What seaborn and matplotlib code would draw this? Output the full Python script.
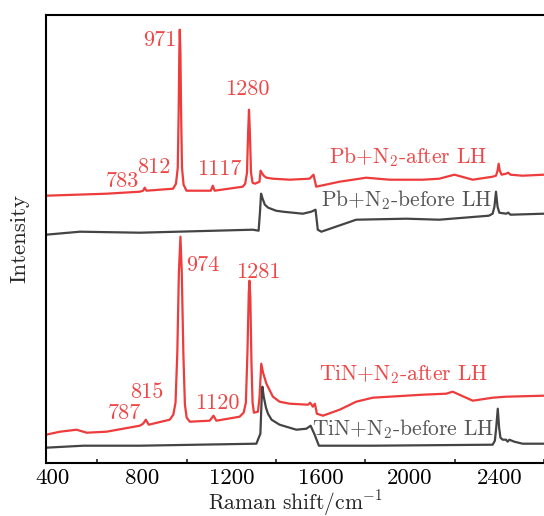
import matplotlib
matplotlib.use("Agg")
import matplotlib.pyplot as plt
from matplotlib.ticker import MultipleLocator
import seaborn as sns
import pandas as pd

# ---- data (Raman shift in cm^-1, intensity in arbitrary units) ----
pb_after_x = [370, 641, 790, 805, 812, 820, 939, 952, 960, 964, 967, 969, 972, 975,
              979, 986, 999, 1108, 1117, 1125, 1251, 1262, 1270, 1275, 1279, 1283,
              1288, 1295, 1306, 1326, 1331, 1336, 1345, 1357, 1386, 1461, 1550, 1568,
              1580, 1685, 1804, 1908, 2057, 2131, 2199, 2281, 2370, 2385, 2392, 2397,
              2402, 2410, 2430, 2440, 2450, 2503, 2600]
pb_after_y = [267, 269, 271, 272, 275, 272, 274, 279, 295, 350, 410, 433, 410, 350,
              295, 278, 272, 272, 277, 272, 276, 279, 290, 330, 353, 330,
              290, 280, 279, 281, 292, 290, 287, 285, 284, 283, 284, 288,
              276, 281, 285, 283, 283, 284, 288, 283, 286, 287, 292, 299,
              292, 288, 289, 290, 288, 287, 288]

pb_before_x = [370, 522, 790, 1297, 1322, 1328, 1333, 1340, 1350, 1365, 1400, 1431,
               1520, 1558, 1577, 1587, 1603, 1759, 1983, 2131, 2353, 2370, 2378,
               2385, 2392, 2400, 2430, 2440, 2450, 2600]
pb_before_y = [228, 231, 230, 233, 232, 250, 269, 264, 258, 255, 252, 251,
               249, 251, 253, 233, 231, 243, 244, 243, 247, 249, 256,
               271, 256, 250, 249, 250, 248, 249]

tin_after_x = [370, 433, 507, 552, 641, 790, 805, 817, 830, 924, 940, 950, 958, 965,
               972, 978, 985, 992, 1000, 1014, 1103, 1120, 1133, 1237, 1255, 1265,
               1272, 1278, 1281, 1285, 1290, 1295, 1301, 1319, 1326, 1334, 1342, 1357,
               1386, 1416, 1461, 1543, 1553, 1565, 1574, 1583, 1610, 1685, 1759, 1833,
               1908, 2057, 2162, 2191, 2281, 2370, 2430, 2600]
tin_after_y = [28, 31, 33, 30, 31, 37, 39, 43, 38, 43, 48, 60, 110, 190,
               226, 190, 110, 58, 45, 41, 42, 47, 42, 46, 50, 60,
               110, 170, 182, 165, 100, 60, 50, 51, 65, 99, 90, 79,
               66, 61, 59, 58, 60, 56, 59, 49, 47, 53, 61, 65,
               66, 68, 69, 71, 62, 65, 66, 67]

tin_before_x = [370, 537, 790, 1312, 1330, 1335, 1339, 1345, 1355, 1364, 1380, 1416,
                1491, 1536, 1555, 1573, 1592, 1834, 2370, 2380, 2386, 2393, 2399,
                2405, 2415, 2430, 2437, 2445, 2467, 2504, 2600]
tin_before_y = [15, 17, 17, 19, 29, 60, 76, 66, 55, 49, 43, 38,
                33, 34, 37, 28, 17, 17, 18, 22, 35, 54, 35,
                25, 23, 23, 21, 23, 21, 19, 19]

series_names = ["Pb+N2-after LH", "Pb+N2-before LH", "TiN+N2-after LH", "TiN+N2-before LH"]

# annotation labels: (text, x, y)
peak_labels = ["971", "1280", "783", "812", "1117", "974", "1281", "815", "787", "1120"]
peak_label_x = [878, 1271, 714, 851, 1148, 1070, 1319, 822, 721, 1137]
peak_label_y = [422, 373, 281, 295, 293, 197, 190, 70, 49, 59]

curve_labels = ["Pb+N$_2$-after LH", "Pb+N$_2$-before LH",
                "TiN+N$_2$-after LH", "TiN+N$_2$-before LH"]
curve_label_x = [1993, 1986, 1971, 1968]
curve_label_y = [306, 263, 88, 34]

xticks = [400, 800, 1200, 1600, 2000, 2400]

# ---- build long table ----
frames = []
for name, xs, ys in zip(series_names,
                        [pb_after_x, pb_before_x, tin_after_x, tin_before_x],
                        [pb_after_y, pb_before_y, tin_after_y, tin_before_y]):
    frames.append(pd.DataFrame({"shift": xs, "intensity": ys, "series": name}))
df = pd.concat(frames, ignore_index=True)

RED = "#EE3B3B"
GRAY = "#444444"
palette = {series_names[0]: RED, series_names[1]: GRAY,
           series_names[2]: RED, series_names[3]: GRAY}
label_colors = ["#EE4747", "#555555", "#EE4747", "#555555"]

sns.set_theme(style="white")
plt.rcParams["font.family"] = ["cmr10"]
plt.rcParams["mathtext.fontset"] = "cm"
plt.rcParams["axes.formatter.use_mathtext"] = True
plt.rcParams["axes.unicode_minus"] = False

fig = plt.figure(figsize=(5.44, 5.16), dpi=100)
ax = fig.add_axes([46 / 544, 1 - 462.7 / 516, 1 - 46 / 544, (462.7 - 15) / 516])

sns.lineplot(data=df, x="shift", y="intensity", hue="series", palette=palette,
             estimator=None, sort=False, linewidth=1.6, legend=False, ax=ax,
             units="series")

ax.set_xlim(370, 2600)
ax.set_ylim(0, 447.7)
ax.set_xticks(xticks)
ax.set_xticklabels([str(t) for t in xticks])
ax.xaxis.set_minor_locator(MultipleLocator(200))
ax.set_yticks([])
ax.tick_params(axis="x", which="major", direction="in", length=6, width=1.2,
               labelsize=16.5, pad=4.5, colors="black")
ax.tick_params(axis="x", which="minor", direction="in", length=3, width=1.2,
               bottom=True)
for side in ["left", "bottom", "top"]:
    ax.spines[side].set_color("black")
    ax.spines[side].set_linewidth(1.5)
ax.spines["right"].set_visible(False)

ax.set_xlabel("Raman shift/cm$^{-1}$", fontsize=15.5, labelpad=-0.5)
ax.set_ylabel("Intensity", fontsize=16.5, labelpad=12)

for t, x, y in zip(peak_labels, peak_label_x, peak_label_y):
    ax.text(x, y, t, color="#EE4747", fontsize=16, ha="center", va="center")

for t, x, y, c in zip(curve_labels, curve_label_x, curve_label_y, label_colors):
    ax.text(x, y, t, color=c, fontsize=15.5, ha="center", va="center")

fig.savefig("out.png", dpi=100)
